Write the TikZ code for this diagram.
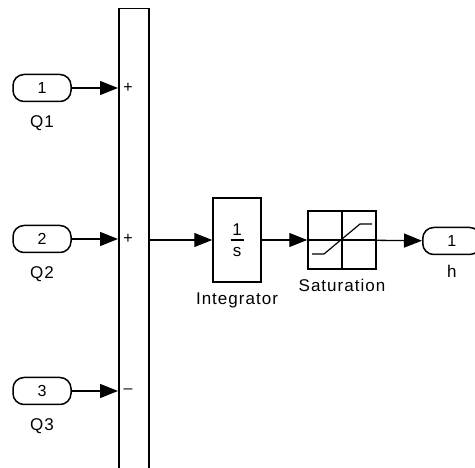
\documentclass[tikz,border=0pt]{standalone}
\usepackage{fontspec}
\setmainfont{Liberation Sans}[LetterSpace=6]
\usetikzlibrary{arrows.meta, positioning}

\tikzset{
  block/.style={draw, line width=1.5pt, inner sep=0pt},
  port/.style={draw, line width=1.5pt, rounded corners=11pt, minimum width=58pt,
    minimum height=27pt, inner sep=0pt, font=\fontsize{16}{16}\selectfont},
  lbl/.style={font=\fontsize{17}{17}\selectfont, inner sep=0pt},
  sgn/.style={font=\fontsize{16}{16}\selectfont, inner sep=0pt},
  sig/.style={line width=1.3pt, -{Triangle[length=18pt,width=14pt]}},
}

\begin{document}
\begin{tikzpicture}[x=1pt, y=-1pt]
    \useasboundingbox (0,0) rectangle (475,468);
    \clip (0,0) rectangle (475,468);
    % sum bar
    \node (sum) [block, minimum width=30pt, minimum height=490pt, anchor=north west] at (118,8) {};
    % inputs
    \foreach \n/\y/\s in {1/88/+, 2/239/+, 3/391/--} {
        \node (in\n) [port] at (42,\y) {\n};
        \node (q\n) [lbl, below=13pt of in\n] {Q\n};
        \coordinate (s\n) at (sum.west |- in\n);
        \draw[sig] (in\n) -- (s\n);
        \node (sg\n) [sgn] at (128,\y) {\s};
    }
    % integrator
    \node (int) [block, minimum width=48pt, minimum height=84pt] at (237,240) {};
    \node (num) [sgn, font=\fontsize{17}{17}\selectfont, above=4pt of int.center] {1};
    \node (den) [sgn, font=\fontsize{17}{17}\selectfont, below=7pt of int.center] {s};
    \draw[line width=1.3pt] (int.center) +(-6.5,0) -- +(6.5,0);
    \node (intl) [lbl, below=10pt of int] {Integrator};
    % saturation
    \node (sat) [block, minimum width=68pt, minimum height=58pt] at (342,240) {};
    \draw[line width=1.5pt] (sat.north) -- (sat.south) (sat.west) -- (sat.east);
    \draw[line width=1.2pt, shift={(sat.center)}] (-30,14) -- (-18,14) -- (18,-16) -- (30,-16);
    \node (satl) [lbl, below=9pt of sat] {Saturation};
    % output
    \node (out) [port, anchor=west] at (422,241) {1};
    \node (h) [lbl, below=10pt of out] {h};
    % signals
    \draw[sig] (sum.east |- int) -- (int);
    \draw[sig] (int) -- (sat);
    \draw[sig] (sat) -- (out);
\end{tikzpicture}
\end{document}
